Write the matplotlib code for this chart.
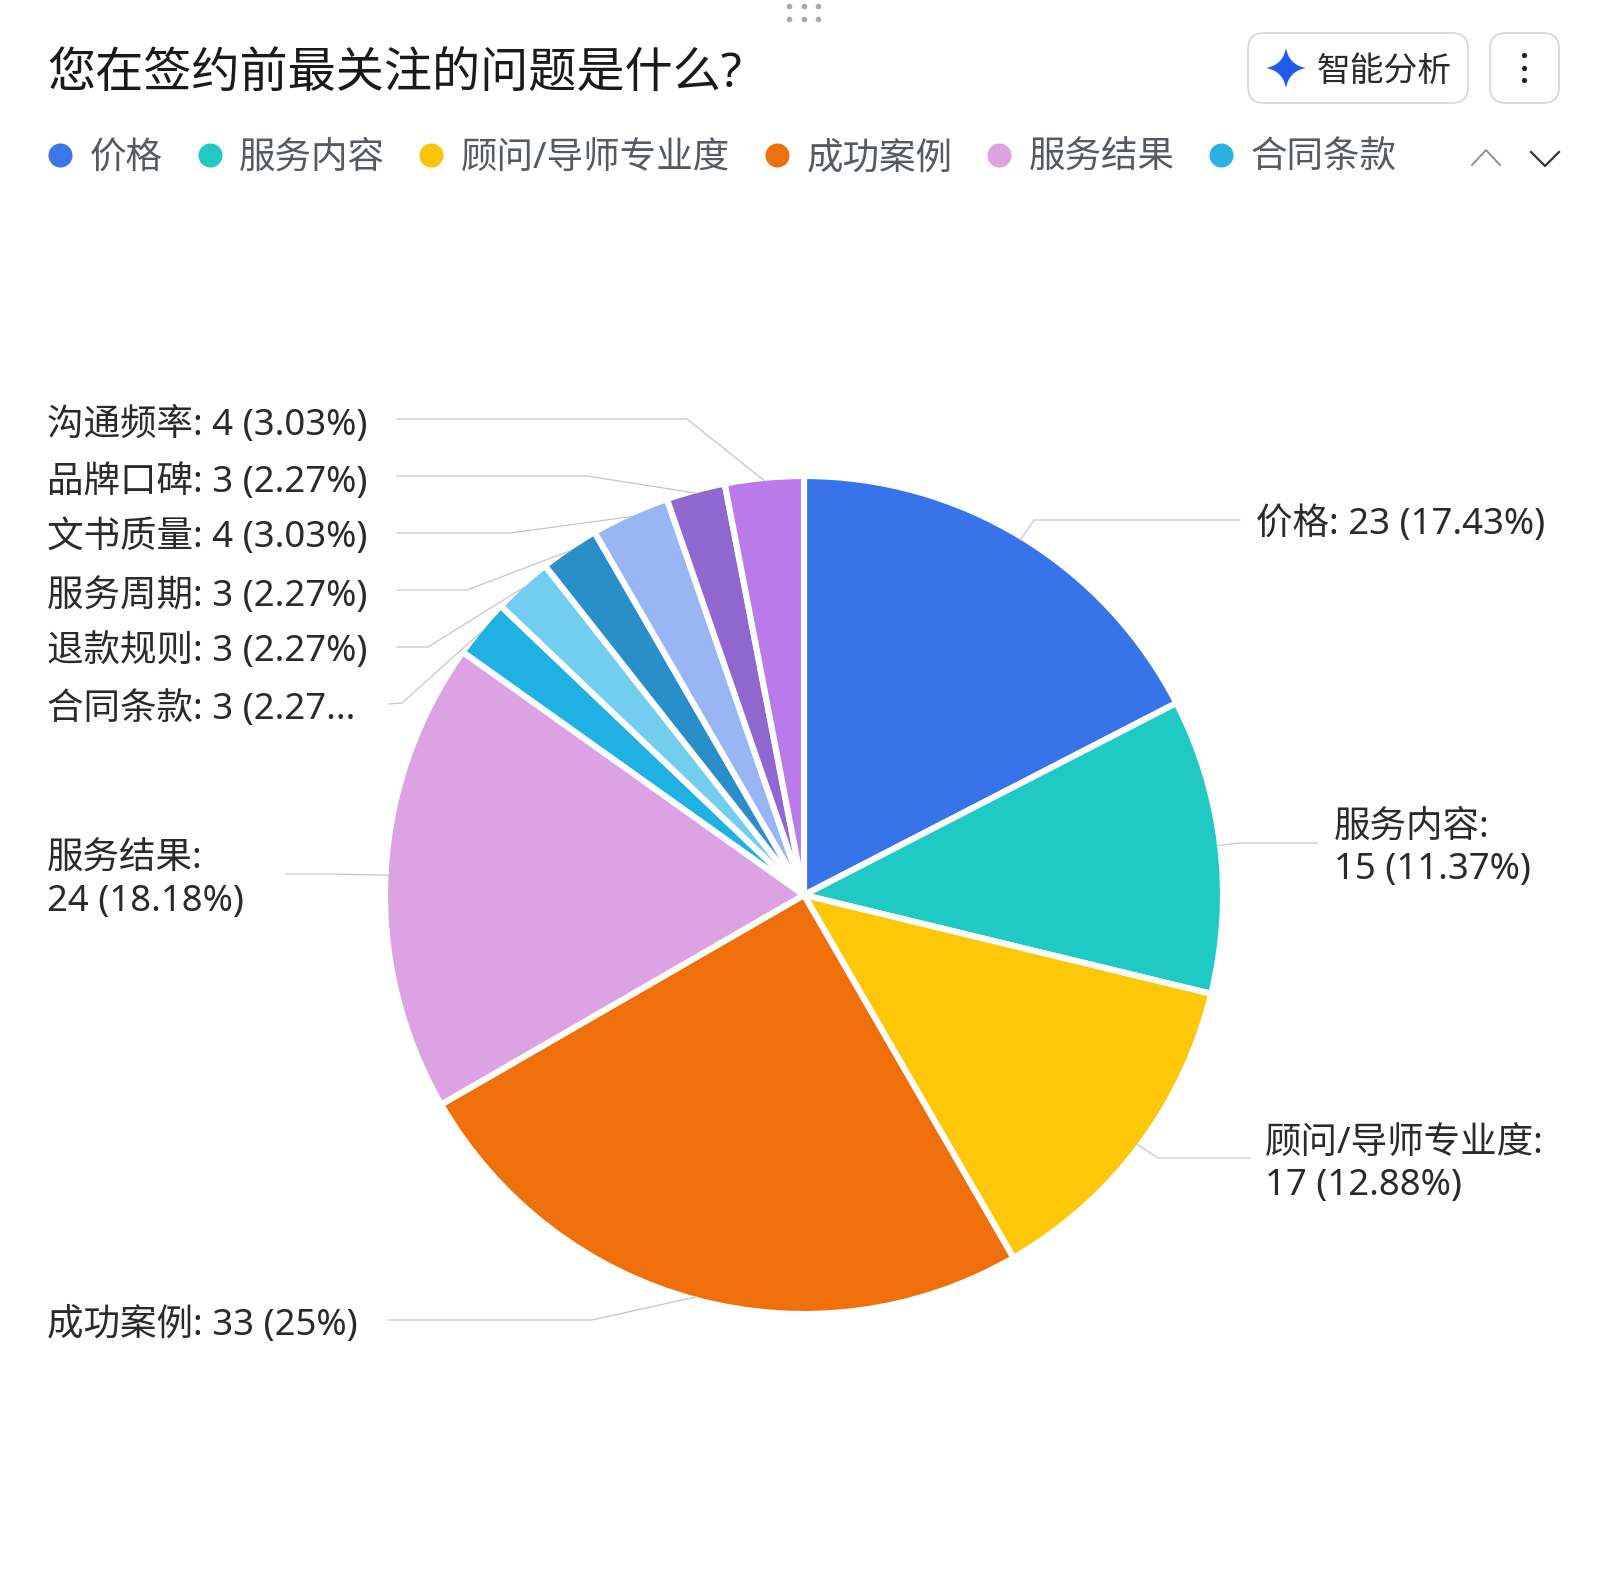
import numpy as np
import matplotlib
matplotlib.use('Agg')
import matplotlib.pyplot as plt
from matplotlib.patches import FancyBboxPatch, PathPatch
from matplotlib.path import Path

plt.rcParams['font.family'] = ['Noto Sans', 'Noto Sans CJK SC', 'DejaVu Sans']

W, H = 1614, 1596

# data
categories = ['价格', '服务内容', '顾问/导师专业度', '成功案例', '服务结果', '合同条款',
              '退款规则', '服务周期', '文书质量', '品牌口碑', '沟通频率']
values = [23, 15, 17, 33, 24, 3, 3, 3, 4, 3, 4]
slice_colors = ['#3873ea', '#1fcac4', '#fec708', '#ef6f0b', '#dca2e3', '#20b1e3',
                '#72cdee', '#2a8fc8', '#9ab5f4', '#9066cf', '#bb7ae9']
label_texts = ['价格: 23 (17.43%)', '服务内容:\n15 (11.37%)', '顾问/导师专业度:\n17 (12.88%)',
               '成功案例: 33 (25%)', '服务结果:\n24 (18.18%)', '合同条款: 3 (2.27...',
               '退款规则: 3 (2.27%)', '服务周期: 3 (2.27%)', '文书质量: 4 (3.03%)',
               '品牌口碑: 3 (2.27%)', '沟通频率: 4 (3.03%)']
legend_names = categories[:6]
legend_colors = ['#3b78e7', '#22c9c3', '#fcc50a', '#ec700f', '#dda3e2', '#2bb1e2']

# layout in pixels, y counted from the top
cx, cy, rad = 804, 895, 416
label_x = [1256, 1334, 1265, 47, 47, 47, 47, 47, 47, 47, 47]
label_y = [525, 849, 1165, 1325, 881, 710, 652, 597, 538, 483, 425]
leader_start = [(1240, 520), (1317, 843), (1250, 1158), (388, 1320), (286, 874), (389, 704),
                (397, 647), (397, 590), (397, 533), (397, 476), (397, 419)]
leader_elbow = [(1034, 520), (1240, 843), (1158, 1158), (592, 1320), (330, 874), (402, 703),
                (428, 647), (467, 590), (510, 533), (587, 476), (687, 419)]
legend_dot_x = [60, 210, 431, 777, 999, 1221]
legend_text_x = [90, 239, 461, 807, 1029, 1251]


def Y(y):
    return H - y


fig = plt.figure(figsize=(W / 100, H / 100), dpi=100)
ax = fig.add_axes([0, 0, 1, 1])

ax.pie(values, colors=slice_colors, startangle=90, counterclock=False,
       center=(cx, Y(cy)), radius=rad + 3, frame=True,
       wedgeprops={'edgecolor': 'white', 'linewidth': 4.4})
ax.set_xlim(0, W)
ax.set_ylim(0, H)
ax.set_aspect('equal')
ax.axis('off')

# leader lines and labels
mid = (np.cumsum(values) - np.array(values) / 2) / sum(values) * 2 * np.pi
for i in range(len(values)):
    ex = cx + rad * np.sin(mid[i])
    ey = cy - rad * np.cos(mid[i])
    xs = [leader_start[i][0], leader_elbow[i][0], ex]
    ys = [Y(leader_start[i][1]), Y(leader_elbow[i][1]), Y(ey)]
    ax.plot(xs, ys, color='#c4c6c4', lw=0.9, zorder=3)
    ax.text(label_x[i], Y(label_y[i]), label_texts[i], fontsize=26.3, color='#2a2a2a',
            ha='left', va='center', linespacing=1.24, fontweight='light')

# title
ax.text(47, Y(75), '您在签约前最关注的问题是什么?', fontsize=34.7, color='#1a1a1a',
        ha='left', va='center')

# legend
for i in range(len(legend_names)):
    ax.scatter(legend_dot_x[i], Y(155), s=300, color=legend_colors[i], linewidths=0)
    ax.text(legend_text_x[i], Y(159), legend_names[i], fontsize=26.3, color='#555a60',
            ha='left', va='center', fontweight='light')

# pager arrows
ax.plot([1472, 1486, 1500], [Y(165), Y(150), Y(165)], color='#8a8a8a', lw=1.3)
ax.plot([1531, 1545, 1559], [Y(152), Y(166), Y(152)], color='#333333', lw=1.6)

# buttons
ax.add_patch(FancyBboxPatch((1248, Y(103)), 220, 70, boxstyle='round,pad=0,rounding_size=16',
                            fc='white', ec='#cfcfcf', lw=1))
ax.add_patch(FancyBboxPatch((1490, Y(103)), 69, 70, boxstyle='round,pad=0,rounding_size=16',
                            fc='white', ec='#cfcfcf', lw=1))
ax.text(1317, Y(72), '智能分析', fontsize=24.3, color='#2a2a2a', ha='left', va='center',
        fontweight='light')
sx, sy, sr = 1286, Y(68), 20
star = Path([(sx, sy + sr), (sx + 3, sy + 3), (sx + sr, sy), (sx + 3, sy - 3), (sx, sy - sr),
             (sx - 3, sy - 3), (sx - sr, sy), (sx - 3, sy + 3), (sx, sy + sr)],
            [Path.MOVETO] + [Path.CURVE3] * 8)
ax.add_patch(PathPatch(star, fc='#1f5bea', ec='none'))
ax.scatter([1524, 1524, 1524], [Y(55), Y(68), Y(80)], s=14, color='#222222', linewidths=0)

# drag handle at the top
for gx in [789, 804, 818]:
    for gy in [6, 19]:
        ax.scatter(gx, Y(gy), s=16, color='#a4a8ae', linewidths=0)

fig.savefig('out.png', dpi=100, facecolor='white')
